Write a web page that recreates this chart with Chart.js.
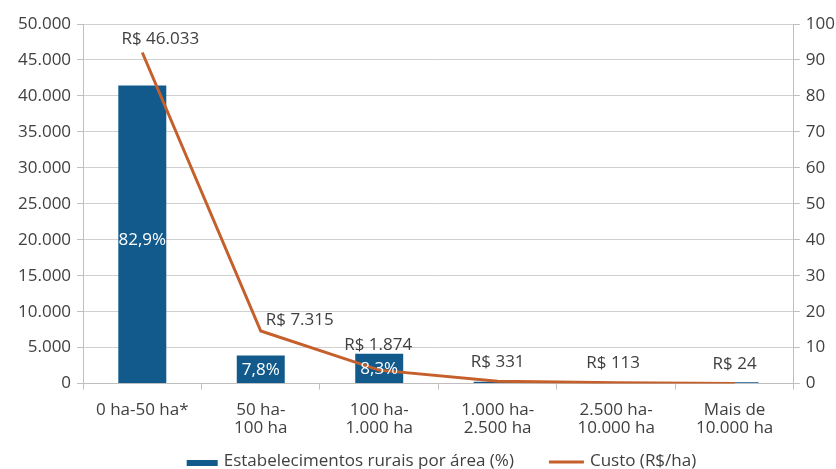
<!DOCTYPE html>
<html>
<head>
<meta charset="utf-8">
<script src="https://cdn.jsdelivr.net/npm/chart.js@4.4.0/dist/chart.umd.min.js"></script>
<style>
  html, body { margin: 0; padding: 0; background: #fff; }
  #wrap { width: 836px; height: 469px; }
</style>
</head>
<body>
<div id="wrap"><canvas id="chart" width="836" height="469"></canvas></div>
<script>
// dados do gráfico
const categorias = [
  "0 ha-50 ha*",
  ["50 ha-", "100 ha"],
  ["100 ha-", "1.000 ha"],
  ["1.000 ha-", "2.500 ha"],
  ["2.500 ha-", "10.000 ha"],
  ["Mais de", "10.000 ha"]
];
const estabelecimentos = [82.9, 7.8, 8.3, 0.5, 0.2, 0.4];   // %
const custo = [46033, 7315, 1874, 331, 113, 24];            // R$/ha
const ticksCusto = [0, 5000, 10000, 15000, 20000, 25000, 30000, 35000, 40000, 45000, 50000];

const AZUL = "#125a8c";
const LARANJA = "#c5602c";
const TEXTO = "#404040";
const FONTE = "'Open Sans', 'Noto Sans', sans-serif";
const TAM = 17;

function milhar(n) {
  return String(Math.round(n)).replace(/\B(?=(\d{3})+(?!\d))/g, ".");
}

// rótulos de dados (barras em branco, linha acima do ponto)
const rotulos = {
  id: "rotulos",
  afterDatasetsDraw(chart) {
    const ctx = chart.ctx;
    ctx.save();
    ctx.font = TAM + "px " + FONTE;
    ctx.textAlign = "center";
    ctx.textBaseline = "middle";

    const barras = chart.getDatasetMeta(0).data;
    ctx.fillStyle = "#ffffff";
    barras.forEach((b, i) => {
      if (estabelecimentos[i] < 5) return;
      const y = (b.y + b.base) / 2 + (estabelecimentos[i] > 50 ? 6 : 1);
      ctx.fillText(String(estabelecimentos[i]).replace(".", ",") + "%", b.x, y);
    });

    const pontos = chart.getDatasetMeta(1).data;
    const ajuste = [[18, -13], [39, -11], [-1, -25], [0, -19], [-3, -20], [0, -19]];
    ctx.fillStyle = TEXTO;
    pontos.forEach((p, i) => {
      ctx.fillText("R$ " + milhar(custo[i]), p.x + ajuste[i][0], p.y + ajuste[i][1]);
    });
    ctx.restore();
  }
};

// legenda desenhada à mão, embaixo
const legenda = {
  id: "legenda",
  afterDraw(chart) {
    const ctx = chart.ctx;
    const ds = chart.data.datasets;
    ctx.save();
    ctx.font = TAM + "px " + FONTE;
    ctx.textBaseline = "middle";
    const w0 = ctx.measureText(ds[0].label).width;
    const w1 = ctx.measureText(ds[1].label).width;
    const total = 31 + 6 + w0 + 35 + 35 + 6 + w1;
    let x = (chart.chartArea.left + chart.chartArea.right) / 2 + 3 - total / 2;
    const y = 461;
    ctx.fillStyle = ds[0].backgroundColor;
    ctx.fillRect(x, y - 1, 31, 6);
    x += 37;
    ctx.fillStyle = TEXTO;
    ctx.fillText(ds[0].label, x, y);
    x += w0 + 35;
    ctx.strokeStyle = ds[1].borderColor;
    ctx.lineWidth = 3;
    ctx.beginPath();
    ctx.moveTo(x, y + 1);
    ctx.lineTo(x + 35, y + 1);
    ctx.stroke();
    x += 41;
    ctx.fillText(ds[1].label, x, y);
    ctx.restore();
  }
};

new Chart(document.getElementById("chart"), {
  data: {
    labels: categorias,
    datasets: [
      {
        type: "bar",
        label: "Estabelecimentos rurais por área (%)",
        data: estabelecimentos,
        backgroundColor: AZUL,
        yAxisID: "yPct",
        order: 2,
        barPercentage: 0.81,
        categoryPercentage: 0.5
      },
      {
        type: "line",
        label: "Custo (R$/ha)",
        data: custo,
        borderColor: LARANJA,
        backgroundColor: LARANJA,
        borderWidth: 3,
        pointRadius: 0,
        tension: 0,
        yAxisID: "yCusto",
        order: 1
      }
    ]
  },
  options: {
    responsive: false,
    animation: false,
    layout: { padding: { top: 24, right: -5, left: 12, bottom: 20 } },
    plugins: {
      tooltip: { enabled: false },
      legend: { display: false }
    },
    scales: {
      x: {
        grid: { display: true, drawOnChartArea: false, tickLength: 6, color: "#bfbfbf", offset: true },
        border: { color: "#bfbfbf" },
        ticks: {
          color: TEXTO, font: { family: FONTE, size: TAM, lineHeight: 1.1 },
          maxRotation: 0, autoSkip: false, padding: 11
        }
      },
      yCusto: {
        position: "left",
        min: 0,
        max: 50000,
        afterBuildTicks(axis) { axis.ticks = ticksCusto.map(v => ({ value: v })); },
        grid: { color: "#d0d0d0", tickLength: 6, tickColor: "#bfbfbf" },
        border: { display: true, color: "#bfbfbf" },
        ticks: { color: TEXTO, font: { family: FONTE, size: TAM }, padding: 6, callback: v => milhar(v) }
      },
      yPct: {
        position: "right",
        min: 0,
        max: 100,
        grid: { drawOnChartArea: false, color: "#bfbfbf", tickLength: 6 },
        border: { color: "#bfbfbf" },
        ticks: { stepSize: 10, color: TEXTO, font: { family: FONTE, size: TAM }, padding: 6 }
      }
    }
  },
  plugins: [rotulos, legenda]
});
</script>
</body>
</html>
